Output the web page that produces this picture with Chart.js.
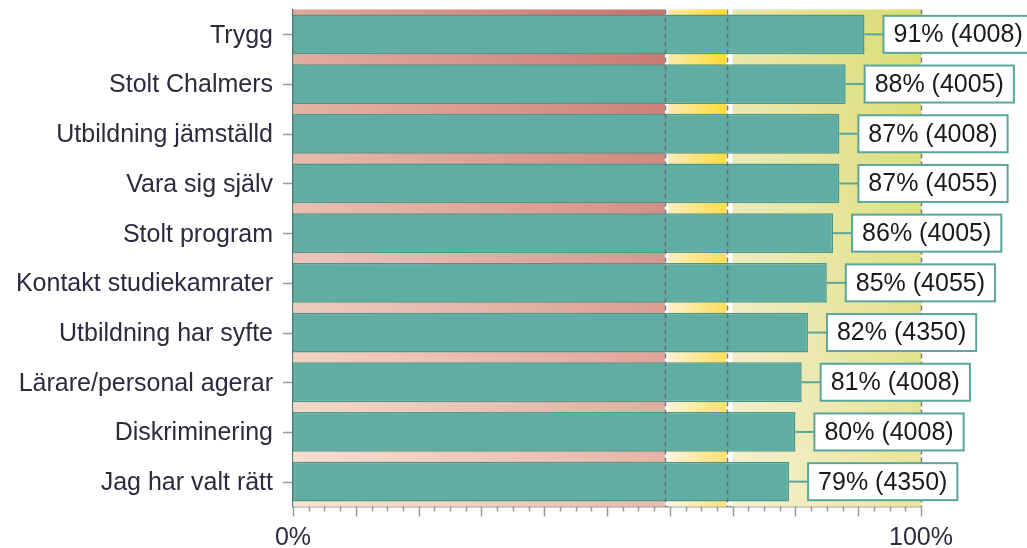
<!DOCTYPE html>
<html>
<head>
<meta charset="utf-8">
<script src="https://cdn.jsdelivr.net/npm/chart.js@4/dist/chart.umd.min.js"></script>
<style>
  html, body { margin: 0; padding: 0; background: #fff; }
  #wrap { width: 1027px; height: 548px; }
</style>
</head>
<body>
<div id="wrap"><canvas id="chart" width="1027" height="548"></canvas></div>
<script>
const categories = ["Trygg", "Stolt Chalmers", "Utbildning jämställd", "Vara sig själv", "Stolt program",
  "Kontakt studiekamrater", "Utbildning har syfte", "Lärare/personal agerar", "Diskriminering", "Jag har valt rätt"];
const percents = [91, 88, 87, 87, 86, 85, 82, 81, 80, 79];
const counts = [4008, 4005, 4008, 4055, 4005, 4055, 4350, 4008, 4008, 4350];
const axisTicks = [0, 100];

// background bands (from, to, corner colours tl, tr, bl, br)
const bands = [
  { from: 0, to: 59.2, c: ["#d99889", "#bd5a53", "#f7e0cd", "#e4b09f"] },
  { from: 59.8, to: 69.0, c: ["#fce396", "#ffd400", "#fdf4de", "#fadc62"] },
  { from: 70, to: 100, c: ["#e5e19c", "#d2d755", "#f5edcd", "#e4e18e"] }
];
const dashAt = [59.2, 69.1, 100];

const FONT = "'Liberation Sans', Arial, sans-serif";

function hex(c) {
  return [parseInt(c.slice(1, 3), 16), parseInt(c.slice(3, 5), 16), parseInt(c.slice(5, 7), 16)];
}
function mix(a, b, t) {
  const A = hex(a), B = hex(b);
  return "rgb(" + A.map((v, i) => Math.round(v + (B[i] - v) * t)).join(",") + ")";
}

const bandsPlugin = {
  id: "bands",
  beforeDatasetsDraw(chart) {
    const { ctx, chartArea, scales } = chart;
    const x = scales.x, y = scales.y;
    ctx.save();
    bands.forEach(b => {
      const x0 = x.getPixelForValue(b.from), x1 = x.getPixelForValue(b.to);
      for (let yy = chartArea.top; yy < chartArea.bottom; yy++) {
        const t = (yy - chartArea.top) / (chartArea.bottom - chartArea.top);
        const g = ctx.createLinearGradient(x0, 0, x1, 0);
        g.addColorStop(0, mix(b.c[0], b.c[2], t));
        g.addColorStop(1, mix(b.c[1], b.c[3], t));
        ctx.fillStyle = g;
        ctx.fillRect(x0, yy, x1 - x0, 1.2);
      }
    });
    // y tick marks at category centres
    ctx.strokeStyle = "#9a9a9a";
    ctx.lineWidth = 1.5;
    categories.forEach((c, i) => {
      const py = Math.round(y.getPixelForValue(i)) + 0.5;
      ctx.beginPath();
      ctx.moveTo(chartArea.left - 10, py);
      ctx.lineTo(chartArea.left - 1, py);
      ctx.stroke();
    });
    ctx.restore();
  },
  afterDatasetsDraw(chart) {
    const { ctx, chartArea, scales } = chart;
    const x = scales.x;
    ctx.save();
    // dashed separators
    ctx.strokeStyle = "rgba(105,105,105,0.85)";
    ctx.lineWidth = 1.5;
    ctx.setLineDash([5, 3]);
    dashAt.forEach(v => {
      const px = Math.round(x.getPixelForValue(v)) + 0.5;
      ctx.beginPath();
      ctx.moveTo(px, chartArea.top);
      ctx.lineTo(px, chartArea.bottom);
      ctx.stroke();
    });
    ctx.setLineDash([]);

    // ticks on x axis
    ctx.strokeStyle = "#9a9a9a";
    ctx.lineWidth = 1.5;
    for (let v = 0; v <= 100; v += 2.5) {
      const px = Math.round(x.getPixelForValue(v)) + 0.5;
      const len = v % 10 === 0 ? 10 : 5;
      ctx.beginPath();
      ctx.moveTo(px, chartArea.bottom);
      ctx.lineTo(px, chartArea.bottom + len);
      ctx.stroke();
    }

    // value labels
    const meta = chart.getDatasetMeta(0);
    ctx.font = "25px " + FONT;
    ctx.textBaseline = "middle";
    meta.data.forEach((bar, i) => {
      const txt = percents[i] + "% (" + counts[i] + ")";
      const w = ctx.measureText(txt).width + 20;
      const h = 37;
      const bx = bar.x + 19;
      ctx.strokeStyle = "#5aa69c";
      ctx.lineWidth = 2;
      ctx.beginPath();
      ctx.moveTo(bar.x, bar.y);
      ctx.lineTo(bx, bar.y);
      ctx.stroke();
      ctx.fillStyle = "#ffffff";
      ctx.fillRect(bx, bar.y - h / 2, w, h);
      ctx.strokeRect(bx, bar.y - h / 2, w, h);
      ctx.fillStyle = "#1a1a1a";
      ctx.fillText(txt, bx + 10, bar.y + 1);
    });
    ctx.restore();
  }
};

new Chart(document.getElementById("chart"), {
  type: "bar",
  data: {
    labels: categories,
    datasets: [{
      data: percents,
      backgroundColor: "#60ada3",
      borderColor: "#4b978c",
      borderWidth: 1.5,
      borderSkipped: false,
      barPercentage: 0.8,
      categoryPercentage: 1
    }]
  },
  options: {
    indexAxis: "y",
    responsive: false,
    animation: false,
    layout: { padding: { top: 9.5, right: 106, left: 0, bottom: 0 } },
    plugins: { legend: { display: false }, tooltip: { enabled: false } },
    scales: {
      x: {
        min: 0,
        max: 100,
        afterBuildTicks: s => { s.ticks = axisTicks.map(v => ({ value: v })); },
        afterFit: s => { s.height = 41.5; },
        grid: { display: false, drawTicks: false },
        border: { display: true, color: "#9a9a9a", width: 1.5 },
        ticks: {
          padding: 17,
          maxRotation: 0,
          autoSkip: false,
          color: "#2b2b3f",
          font: { family: FONT, size: 25 },
          callback: v => v + "%"
        }
      },
      y: {
        afterFit: s => { s.width = 293; },
        grid: { display: true, drawOnChartArea: false, offset: false, tickLength: 20, tickColor: "rgba(0,0,0,0)" },
        border: { display: true, color: "#4d7d77", width: 1.5 },
        ticks: {
          padding: 0,
          labelOffset: 1.5,
          color: "#2b2b3f",
          font: { family: FONT, size: 25, lineHeight: 0.5 }
        }
      }
    }
  },
  plugins: [bandsPlugin]
});
</script>
</body>
</html>
